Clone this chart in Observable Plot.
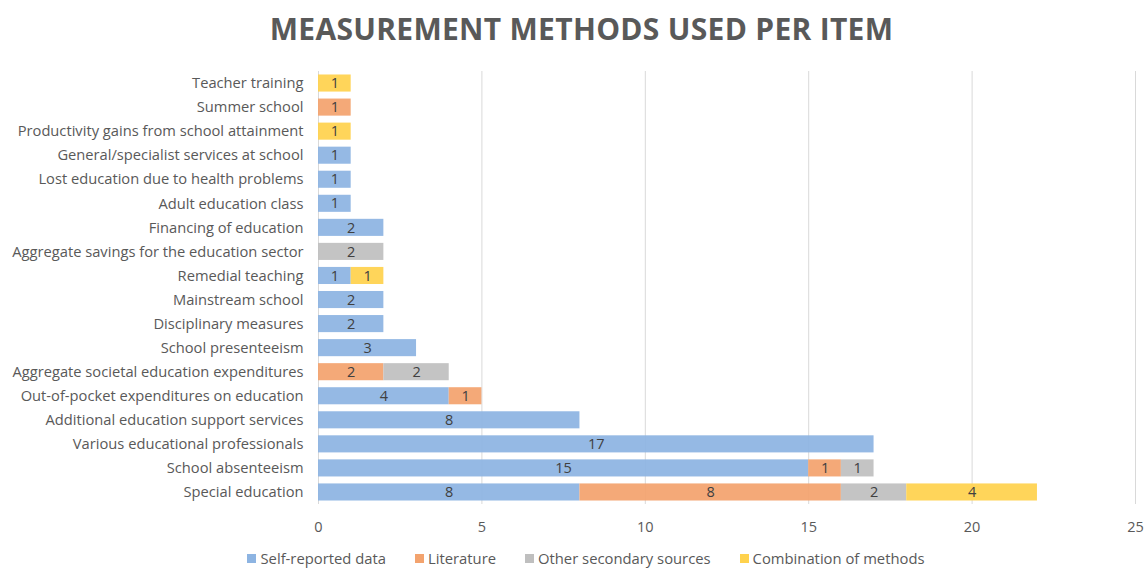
<!DOCTYPE html>
<html>
<head>
<meta charset="utf-8">
<script src="https://cdn.jsdelivr.net/npm/d3@7"></script>
<script src="https://cdn.jsdelivr.net/npm/@observablehq/plot@0.6"></script>
<style>
  html, body { margin: 0; padding: 0; background: #fff; overflow: hidden; }
  body { width: 1148px; height: 570px; font-family: "Open Sans", sans-serif; }
  #title { box-sizing: border-box; height: 60px; line-height: 58px; padding-left: 15px; text-align: center; font-size: 30px; font-weight: 700; color: #595959; letter-spacing: 0.3px; }
  #chart { position: absolute; top: 60px; left: 0; }
  #legend { box-sizing: border-box; position: absolute; top: 549px; left: 0; width: 1148px; padding-left: 24px; display: flex; justify-content: center; gap: 29px; font-size: 14.8px; line-height: 19px; color: #595959; }
  #legend span.item { display: inline-flex; align-items: center; }
  #legend span.sw { width: 9px; height: 9px; display: inline-block; margin-right: 4px; }
</style>
</head>
<body>
<div id="title">MEASUREMENT METHODS USED PER ITEM</div>
<div id="chart"></div>
<div id="legend"></div>
<script>
const categories = [
  "Teacher training",
  "Summer school",
  "Productivity gains from school attainment",
  "General/specialist services at school",
  "Lost education due to health problems",
  "Adult education class",
  "Financing of education",
  "Aggregate savings for the education sector",
  "Remedial teaching",
  "Mainstream school",
  "Disciplinary measures",
  "School presenteeism",
  "Aggregate societal education expenditures",
  "Out-of-pocket expenditures on education",
  "Additional education support services",
  "Various educational professionals",
  "School absenteeism",
  "Special education"
];
const methods = ["Self-reported data", "Literature", "Other secondary sources", "Combination of methods"];
const selfReported   = [0,0,0,1,1,1,2,0,1,2,2,3,0,4,8,17,15,8];
const literature     = [0,1,0,0,0,0,0,0,0,0,0,0,2,1,0,0,1,8];
const otherSecondary = [0,0,0,0,0,0,0,2,0,0,0,0,2,0,0,0,1,2];
const combination    = [1,0,1,0,0,0,0,0,1,0,0,0,0,0,0,0,0,4];
const xTicks = [0, 5, 10, 15, 20, 25];
const colors = ["#8db4e2", "#f3a36e", "#bfbfbf", "#ffd24d"];

const series = [selfReported, literature, otherSecondary, combination];
const data = [];
categories.forEach((c, i) => {
  methods.forEach((m, j) => {
    const v = series[j][i];
    if (v > 0) data.push({category: c, method: m, value: v});
  });
});

const chart = Plot.plot({
  width: 1148,
  height: 488,
  marginTop: 11,
  marginBottom: 44,
  marginLeft: 318,
  marginRight: 13,
  style: {fontFamily: "'Open Sans', sans-serif", fontSize: "14.7px", color: "#595959", background: "#fff"},
  x: {domain: [0, 25], ticks: xTicks, label: null, tickSize: 0, tickPadding: 18},
  y: {domain: categories, label: null, paddingInner: 0.29, paddingOuter: 0.145, round: false, tickSize: 0, tickPadding: 15},
  color: {domain: methods, range: colors},
  marks: [
    Plot.gridX(xTicks, {stroke: "#d9d9d9", strokeOpacity: 1}),
    Plot.barX(data, Plot.stackX({x: "value", y: "category", fill: "method", order: methods, fillOpacity: 0.93})),
    Plot.text(data, Plot.stackX({x: "value", y: "category", z: "method", order: methods, text: "value", fill: "#404040", fontSize: 14.5})),
    Plot.axisX({ticks: xTicks, tickSize: 0, tickPadding: 17, fontSize: 14.5, fill: "#595959"}),
    Plot.axisY({tickSize: 0, tickPadding: 15, fontSize: 14.7, fill: "#595959"})
  ]
});
document.getElementById("chart").appendChild(chart);

const legend = document.getElementById("legend");
methods.forEach((m, j) => {
  const item = document.createElement("span");
  item.className = "item";
  const sw = document.createElement("span");
  sw.className = "sw";
  sw.style.background = colors[j];
  item.appendChild(sw);
  item.appendChild(document.createTextNode(m));
  legend.appendChild(item);
});
</script>
</body>
</html>
